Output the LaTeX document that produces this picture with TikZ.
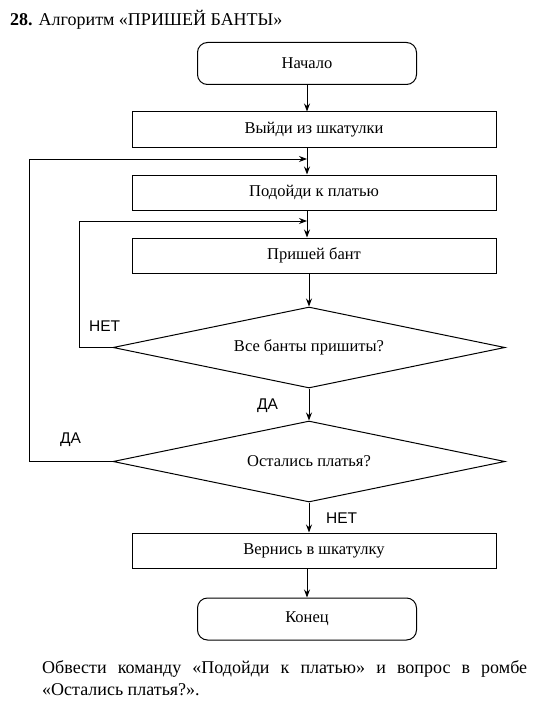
\documentclass[tikz,border=0pt]{standalone}
\usepackage{fontspec}
\setmainfont{Liberation Serif}
\newfontfamily\labfont{Liberation Sans}
\usetikzlibrary{arrows.meta,shapes.geometric}
\begin{document}
\begin{tikzpicture}[x=1pt,y=-1pt,
  every node/.style={inner sep=0pt},
  term/.style={draw,line width=1pt,rectangle,rounded corners=10pt,minimum width=219pt,minimum height=42pt,font=\fontsize{16.5}{19}\selectfont},
  proc/.style={draw,line width=1pt,rectangle,minimum width=364pt,minimum height=35pt,font=\fontsize{16.5}{19}\selectfont},
  decis/.style={draw,line width=1pt,diamond,aspect=4.84,minimum width=392pt,minimum height=81pt,font=\fontsize{16.5}{19}\selectfont},
  lab/.style={font=\labfont\fontsize{15.5}{18}\selectfont},
  arr/.style={line width=1pt,-{Stealth[length=8pt,width=6pt]}},
  ln/.style={line width=1pt}]
\useasboundingbox (0,0) rectangle (539,706);
\node[anchor=base west,font=\fontsize{18}{21}\selectfont] (title) at (10,26) {\textbf{28.} Алгоритм «ПРИШЕЙ БАНТЫ»};
\node[term] (start) at (307,63.5) {Начало};
\node[proc] (b1) at (314,129.5) {Выйди из шкатулки};
\node[proc] (b2) at (314,192.5) {Подойди к платью};
\node[proc] (b3) at (314,255.5) {Пришей бант};
\node[decis] (d1) at (309,347.5) {Все банты пришиты?};
\node[decis] (d2) at (309,461.5) {Остались платья?};
\node[proc] (b4) at (314,550.5) {Вернись в шкатулку};
\node[term] (end) at (307,619) {Конец};
\coordinate (j1) at (307,159);
\coordinate (j2) at (307,221);
\coordinate (c1) at (79,347.5);
\coordinate (c2) at (29,461.5);
\draw[arr] (start.south) -- (start.south |- b1.north);
\draw[arr] (b1.south -| start.south) -- (b2.north -| start.south);
\draw[arr] (b2.south -| start.south) -- (b3.north -| start.south);
\draw[arr] (b3.south -| d1.north) -- (d1.north);
\draw[arr] (d1.south) -- (d2.north);
\draw[arr] (d2.south) -- (d2.south |- b4.north);
\draw[arr] (b4.south -| end.north) -- (end.north);
\draw[arr] (d1.west) -- (c1) |- (j2);
\draw[arr] (d2.west) -- (c2) |- (j1);
\node[lab,anchor=base west] (n1) at (89,331) {НЕТ};
\node[lab,anchor=base west] (y1) at (257,409) {ДА};
\node[lab,anchor=base west] (y2) at (60,443) {ДА};
\node[lab,anchor=base west] (n2) at (326,523) {НЕТ};
\node[anchor=base west,font=\fontsize{18}{21}\selectfont] (q1) at (42,673) {\makebox[485pt][s]{Обвести команду «Подойди к платью» и вопрос в ромбе}};
\node[anchor=base west,font=\fontsize{18}{21}\selectfont] (q2) at (42,695) {«Остались платья?».};
\end{tikzpicture}
\end{document}
